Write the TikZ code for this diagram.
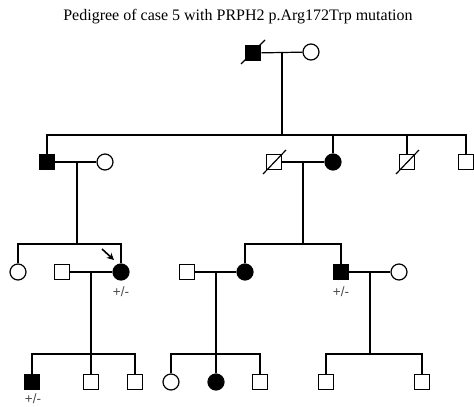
\documentclass[tikz,border=0pt]{standalone}
\usepackage{fontspec}
\setmainfont{Liberation Serif}
\newfontfamily\labelfont{Liberation Sans}
\usetikzlibrary{arrows.meta}
\begin{document}
\begin{tikzpicture}[x=1pt,y=-1pt,
  line width=1.2pt,
  male/.style={draw,rectangle,minimum size=15.5pt,inner sep=0pt,fill=white},
  female/.style={draw,circle,minimum size=16pt,inner sep=0pt,fill=white},
  affected/.style={fill=black},
  carrier/.style={font=\labelfont\fontsize{13.5}{14}\selectfont,text=black!70,inner sep=0pt},
  link/.style={draw,line width=1.2pt}]
\useasboundingbox (0,0) rectangle (474,407);
\node[font=\fontsize{16}{18}\selectfont] (title) at (238,17) {Pedigree of case 5 with PRPH2 p.Arg172Trp mutation};

% generation I
\node[male,affected] (i1) at (253,53) {};
\node[female] (i2) at (311,52) {};
\draw[link] (i1) -- (i2);
\coordinate (m1) at (282,52);
\coordinate (s1) at (282,135);
\draw[link] (m1) -- (s1);
\draw (241,64) -- (265,40);

% generation II
\node[male,affected] (ii1) at (47,162) {};
\node[female] (ii2) at (105,162) {};
\node[male] (ii3) at (274,162) {};
\node[female,affected] (ii4) at (333,162) {};
\node[male] (ii5) at (407,162) {};
\node[male] (ii6) at (466,162) {};
\draw (263,174) -- (286,150);
\draw (396,174) -- (419,150);
\draw[link] (ii1.north) |- (ii6.north|-s1) -- (ii6.north);
\draw[link] (ii4.north) -- (ii4.north|-s1);
\draw[link] (ii5.north) -- (ii5.north|-s1);
\draw[link] (ii1) -- (ii2);
\draw[link] (ii3) -- (ii4);

% generation III
\node[female] (iii1) at (18,272) {};
\node[male] (iii2) at (62,272) {};
\node[female,affected] (iii3) at (121,272) {};
\node[male] (iii4) at (187,272) {};
\node[female,affected] (iii5) at (245,272) {};
\node[male,affected] (iii6) at (341,272) {};
\node[female] (iii7) at (399,272) {};
\node[carrier] (c1) at (121,292) {+/-};
\node[carrier] (c2) at (341,292) {+/-};
\coordinate (pa) at (102,249);
\draw[-{Stealth[length=7pt,width=7pt]},line width=1.6pt] (pa) -- (114,260);

\coordinate (m2) at (77,162);
\coordinate (s2) at (77,244);
\draw[link] (m2) -- (s2);
\draw[link] (iii1.north) |- (s2) -| (iii3.north);
\coordinate (m3) at (303,162);
\coordinate (s3) at (303,244);
\draw[link] (m3) -- (s3);
\draw[link] (iii5.north) |- (s3) -| (iii6.north);
\draw[link] (iii2) -- (iii3);
\draw[link] (iii4) -- (iii5);
\draw[link] (iii6) -- (iii7);

% generation IV
\node[male,affected] (iv1) at (32,382) {};
\node[male] (iv2) at (91,382) {};
\node[male] (iv3) at (135,382) {};
\node[female] (iv4) at (171,382) {};
\node[female,affected] (iv5) at (216,382) {};
\node[male] (iv6) at (260,382) {};
\node[male] (iv7) at (326,382) {};
\node[male] (iv8) at (422,382) {};
\node[carrier] (c3) at (33,399) {+/-};

\coordinate (m4) at (91,272);
\coordinate (s4) at (91,354);
\draw[link] (m4) -- (iv2.north);
\draw[link] (iv1.north) |- (s4) -| (iv3.north);
\coordinate (m5) at (216,272);
\coordinate (s5) at (216,354);
\draw[link] (m5) -- (iv5.north);
\draw[link] (iv4.north) |- (s5) -| (iv6.north);
\coordinate (m6) at (370,272);
\coordinate (s6) at (370,354);
\draw[link] (m6) -- (s6);
\draw[link] (iv7.north) |- (s6) -| (iv8.north);
\end{tikzpicture}
\end{document}
